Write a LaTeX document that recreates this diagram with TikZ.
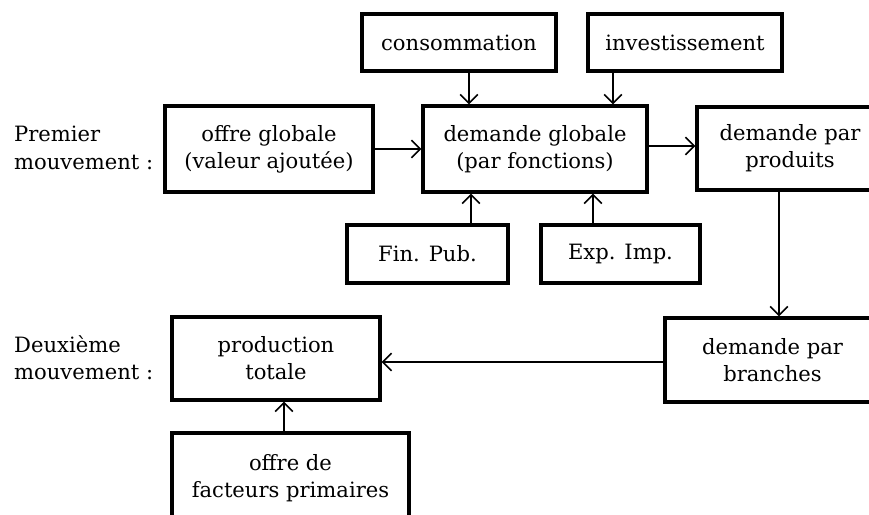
\documentclass[tikz,border=0pt]{standalone}
\usepackage{fontspec}
\setmainfont{DejaVu Serif}
\usetikzlibrary{arrows.meta, positioning}
\tikzset{
  bloc/.style={draw, line width=1.9pt, align=center, inner sep=2pt,
    font=\fontsize{12}{15.5}\selectfont},
  fleche/.style={line width=0.9pt, -{Straight Barb[length=5pt,width=10pt,line width=0.9pt]}},
  titre/.style={align=left, anchor=west, font=\fontsize{12}{15.5}\selectfont}
}
\begin{document}
\begin{tikzpicture}[x=0.02cm, y=-0.02cm]
  \useasboundingbox (0,0) rectangle (869,514);
  \clip (0,0) rectangle (869,514);
  % premier mouvement
  \node[titre] (mvt1) at (8,148) {Premier\\mouvement :};
  \node[bloc, minimum width=194*0.02cm, minimum height=57*0.02cm] (conso) at (459,42.5) {consommation};
  \node[bloc, minimum width=194*0.02cm, minimum height=57*0.02cm] (invest) at (685,42.5) {investissement};
  \node[bloc, minimum width=208*0.02cm, minimum height=86*0.02cm] (offre) at (269,149) {offre globale\\(valeur ajoutée)};
  \node[bloc, minimum width=224*0.02cm, minimum height=86*0.02cm] (dglob) at (535,149) {demande globale\\(par fonctions)};
  \node[bloc, minimum width=186*0.02cm, minimum height=83*0.02cm] (dprod) at (790,148.5) {demande par\\produits};
  \node[bloc, minimum width=161*0.02cm, minimum height=58*0.02cm] (finpub) at (427.5,254) {Fin. Pub.};
  \node[bloc, minimum width=159*0.02cm, minimum height=58*0.02cm] (expimp) at (620.5,254) {Exp. Imp.};
  % deuxieme mouvement
  \node[titre] (mvt2) at (8,358) {Deuxième\\mouvement :};
  \node[bloc, minimum width=208*0.02cm, minimum height=83*0.02cm] (prod) at (276,358.5) {production\\totale};
  \node[bloc, minimum width=215*0.02cm, minimum height=84*0.02cm] (dbranch) at (772.5,360) {demande par\\branches};
  \node[bloc, minimum width=237*0.02cm, minimum height=90*0.02cm] (facteurs) at (290.5,478) {offre de\\facteurs primaires};
  % fleches
  \draw[fleche] ([xshift=0.2cm]conso.south) -- ([xshift=0.2cm]conso.south |- dglob.north);
  \draw[fleche] ([xshift=-1.44cm]invest.south) -- ([xshift=-1.44cm]invest.south |- dglob.north);
  \draw[fleche] (offre.east) -- (offre.east -| dglob.west);
  \draw[fleche] ([yshift=0.06cm]dglob.east) -- ([yshift=0.06cm]dglob.east -| dprod.west);
  \draw[fleche] ([xshift=0.87cm]finpub.north) -- ([xshift=0.87cm]finpub.north |- dglob.south);
  \draw[fleche] ([xshift=-0.55cm]expimp.north) -- ([xshift=-0.55cm]expimp.north |- dglob.south);
  \draw[fleche] ([xshift=-0.22cm]dprod.south) -- ([xshift=-0.22cm]dprod.south |- dbranch.north);
  \draw[fleche] ([yshift=-0.04cm]dbranch.west) -- ([yshift=-0.04cm]dbranch.west -| prod.east);
  \draw[fleche] ([xshift=-0.13cm]facteurs.north) -- ([xshift=-0.13cm]facteurs.north |- prod.south);
\end{tikzpicture}
\end{document}
